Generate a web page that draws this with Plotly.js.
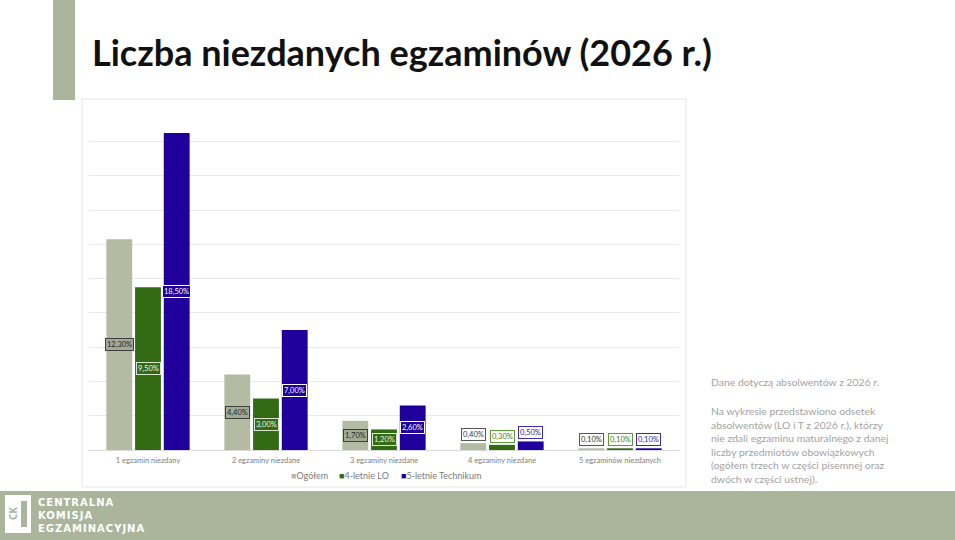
<!DOCTYPE html>
<html>
<head>
<meta charset="utf-8">
<script src="https://cdn.plot.ly/plotly-3.0.1.min.js"></script>
<style>html,body{margin:0;padding:0;background:#fff;} #chart{width:955px;height:540px;}</style>
</head>
<body>
<div id="chart"></div>
<script>
// ---- data ----
const categories = ['1 egzamin niezdany', '2 egzaminy niezdane', '3 egzaminy niezdane', '4 egzaminy niezdane', '5 egzaminów niezdanych'];
const seriesNames = ['Ogółem', '4-letnie LO', '5-letnie Technikum'];
const ogolem = [12.3, 4.4, 1.7, 0.4, 0.1];
const liceum = [9.5, 3.0, 1.2, 0.3, 0.1];
const technikum = [18.5, 7.0, 2.6, 0.5, 0.1];
const titleText = 'Liczba niezdanych egzaminów (2026 r.)';
const noteFirst = 'Dane dotyczą absolwentów z 2026 r.';
const noteLines = ['Na wykresie przedstawiono odsetek', 'absolwentów (LO i T z 2026 r.), którzy', 'nie zdali egzaminu maturalnego z danej', 'liczby przedmiotów obowiązkowych', '(ogółem trzech w części pisemnej oraz', 'dwóch w części ustnej).'];
const footerLines = ['CENTRALNA', 'KOMISJA', 'EGZAMINACYJNA'];

// ---- styles ----
const W = 955, H = 540;
const M = {l: 89, r: 276, t: 107, b: 90};
const PW = W - M.l - M.r, PH = H - M.t - M.b;
const px = v => (v - M.l) / PW;
const py = v => (H - M.b - v) / PH;
const colors = ['#b3bca2', '#326b14', '#20009a'];
const sage = '#aab59b';
const bargap = 0.27;
const slot = (1 - bargap) / 3;

const seriesData = [ogolem, liceum, technikum];
const traces = seriesData.map((vals, i) => ({
  type: 'bar', name: seriesNames[i], x: categories, y: vals,
  marker: {color: colors[i]}, hoverinfo: 'skip', showlegend: false
}));

const fmt = v => v.toFixed(2).replace('.', ',') + '%';
const insideStyle = [
  {bg: '#a3aa94', border: '#3d3d3d', font: '#1e1e1e'},
  {bg: '#326b14', border: '#d8e6cf', font: '#eef5e8'},
  {bg: '#20009a', border: '#ffffff', font: '#ffffff'}
];
const outsideStyle = [
  {bg: '#ffffff', border: '#555555', font: '#333333'},
  {bg: '#ffffff', border: '#5c9a3a', font: '#3f7a20'},
  {bg: '#ffffff', border: '#3a2bb5', font: '#2a1aa8'}
];

const annotations = [];
seriesData.forEach((vals, i) => {
  vals.forEach((v, j) => {
    const inside = v >= 1;
    const st = inside ? insideStyle[i] : outsideStyle[i];
    annotations.push({
      xref: 'x', yref: 'y', x: j + (i - 1) * slot, y: inside ? v / 2 : v,
      yanchor: inside ? 'middle' : 'bottom', yshift: inside ? 0 : 2,
      text: fmt(v), showarrow: false,
      font: {family: 'Lato, sans-serif', size: 7.5, color: st.font},
      bgcolor: st.bg, bordercolor: st.border, borderwidth: 1, borderpad: 1
    });
  });
});

// legend (compact, drawn as text with coloured squares)
const legendX = [289, 337, 399];
seriesNames.forEach((n, i) => {
  annotations.push({
    xref: 'paper', yref: 'paper', x: px(legendX[i]), y: py(476), xanchor: 'left', yanchor: 'middle',
    text: '<span style="color:' + colors[i] + '">■</span>' + n, showarrow: false,
    font: {family: 'Lato, sans-serif', size: 9, color: '#7a7a7a'}
  });
});

annotations.push({
  xref: 'paper', yref: 'paper', x: px(709), y: py(382), xanchor: 'left', yanchor: 'middle',
  text: noteFirst, showarrow: false, align: 'left',
  font: {family: 'Lato, sans-serif', size: 10.4, color: '#a3a3a3'}
});
annotations.push({
  xref: 'paper', yref: 'paper', x: px(709), y: py(403), xanchor: 'left', yanchor: 'top',
  text: noteLines.join('<br>'), showarrow: false, align: 'left',
  font: {family: 'Lato, sans-serif', size: 10.4, color: '#a3a3a3'}
});
annotations.push({
  xref: 'paper', yref: 'paper', x: px(36), y: py(515), xanchor: 'left', yanchor: 'middle',
  text: footerLines.map(t => '<span style="letter-spacing:1px"><b>' + t + '</b></span>').join('<br>'),
  showarrow: false, align: 'left',
  font: {family: 'DejaVu Sans, sans-serif', size: 10, color: '#ffffff'}
});
annotations.push({
  xref: 'paper', yref: 'paper', x: px(13), y: py(514), xanchor: 'center', yanchor: 'middle',
  text: '<b>CK</b>', showarrow: false, textangle: -90,
  font: {family: 'Open Sans, sans-serif', size: 10, color: sage}
});

const shapes = [
  {type: 'rect', xref: 'paper', yref: 'paper', x0: px(82), x1: px(686), y0: py(99), y1: py(487),
   line: {color: '#e6e6e6', width: 1}, fillcolor: 'rgba(0,0,0,0)', layer: 'below'},
  {type: 'rect', xref: 'paper', yref: 'paper', x0: px(53), x1: px(75), y0: py(0), y1: py(100),
   line: {width: 0}, fillcolor: sage, layer: 'below'},
  {type: 'rect', xref: 'paper', yref: 'paper', x0: px(0), x1: px(955), y0: py(491), y1: py(540),
   line: {width: 0}, fillcolor: sage, layer: 'below'},
  {type: 'rect', xref: 'paper', yref: 'paper', x0: px(5), x1: px(31), y0: py(495), y1: py(533),
   line: {width: 0}, fillcolor: '#ffffff', layer: 'above'},
  {type: 'rect', xref: 'paper', yref: 'paper', x0: px(21), x1: px(27), y0: py(501), y1: py(527),
   line: {width: 0}, fillcolor: sage, layer: 'above'}
];

const layout = {
  width: W, height: H, margin: M,
  paper_bgcolor: '#ffffff', plot_bgcolor: '#ffffff',
  title: {text: titleText, xref: 'container', yref: 'container', x: 92 / W, xanchor: 'left',
          y: 1 - 53 / H, yanchor: 'middle',
          font: {family: 'Lato, sans-serif', size: 36, color: '#111111', weight: 'bold'}},
  barmode: 'group', bargap: bargap, bargroupgap: 0.1,
  showlegend: false,
  xaxis: {type: 'category', showgrid: false, zeroline: false, showline: false, ticks: '',
          ticklabelstandoff: 4,
          tickfont: {family: 'Lato, sans-serif', size: 7.5, color: '#808080'}, fixedrange: true},
  yaxis: {range: [0, 20.02], dtick: 2, showticklabels: false, gridcolor: '#e9e9e9', gridwidth: 1,
          zeroline: true, zerolinecolor: '#d9d9d9', zerolinewidth: 1, showline: false, fixedrange: true},
  annotations: annotations, shapes: shapes
};

Plotly.newPlot('chart', traces, layout, {displayModeBar: false, staticPlot: true});
</script>
</body>
</html>
